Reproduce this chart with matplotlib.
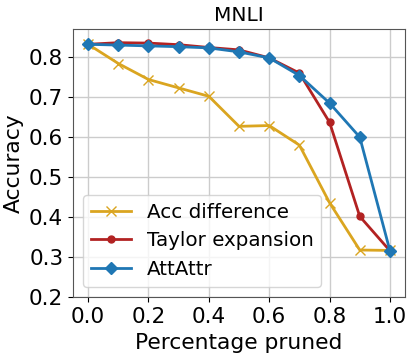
import numpy as np
import matplotlib
matplotlib.use('Agg')
import matplotlib.pyplot as plt

pruned = [0.0, 0.1, 0.2, 0.3, 0.4, 0.5, 0.6, 0.7, 0.8, 0.9, 1.0]
acc_diff = [0.832, 0.784, 0.744, 0.723, 0.702, 0.627, 0.629, 0.580, 0.436, 0.318, 0.317]
taylor = [0.832, 0.836, 0.835, 0.831, 0.824, 0.818, 0.798, 0.760, 0.637, 0.402, 0.316]
attattr = [0.832, 0.830, 0.828, 0.826, 0.823, 0.813, 0.798, 0.754, 0.685, 0.600, 0.316]

fig, ax = plt.subplots(figsize=(4.15, 3.59), dpi=100)
ax.plot(pruned, acc_diff, color='#DAA520', marker='x', lw=2, ms=7, label='Acc difference')
ax.plot(pruned, taylor, color='#B22222', marker='o', lw=2, ms=5, label='Taylor expansion')
ax.plot(pruned, attattr, color='#1F77B4', marker='D', lw=2, ms=6, label='AttAttr')

ax.set_ylim(0.2, 0.87)
ax.set_xticks([0.0, 0.2, 0.4, 0.6, 0.8, 1.0])
ax.set_yticks([0.2, 0.3, 0.4, 0.5, 0.6, 0.7, 0.8])
ax.grid(True, color='#cccccc', lw=1)
ax.tick_params(labelsize=15.5)
for s in ax.spines.values():
    s.set_color('#555555')
ax.set_title('MNLI', fontsize=14.5)
ax.set_xlabel('Percentage pruned', fontsize=15.7)
ax.set_ylabel('Accuracy', fontsize=15.7)
ax.legend(loc='lower left', fontsize=14.3)

plt.subplots_adjust(left=0.176, right=0.976, top=0.919, bottom=0.172)
plt.savefig('out.png')
